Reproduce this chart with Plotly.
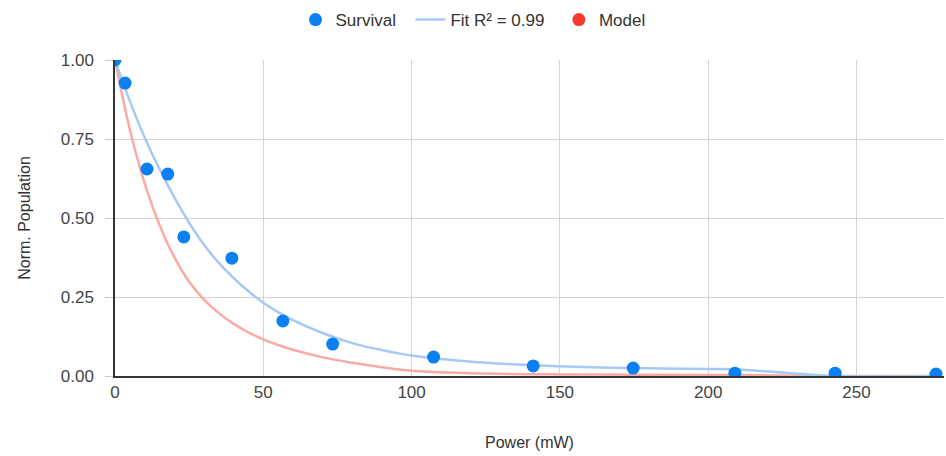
import plotly.graph_objects as go

# Measured data
power = [0, 3.4, 10.8, 17.8, 23.2, 39.4, 56.6, 73.4, 107.4, 141, 174.7, 209, 242.8, 276.8]
survival = [1.0, 0.927, 0.655, 0.639, 0.44, 0.373, 0.174, 0.101, 0.060, 0.032, 0.025, 0.009, 0.009, 0.006]

# Curves at these power values
curve_x = [0, 5, 10, 15, 20, 25, 30, 35, 40, 45, 50, 55, 60, 70, 80, 90, 100, 125, 150, 175, 200, 209, 243, 277]
fit = [1.0, 0.87, 0.755, 0.655, 0.565, 0.485, 0.415, 0.358, 0.31, 0.268, 0.232, 0.202, 0.177, 0.136, 0.104, 0.082, 0.065,
       0.042, 0.031, 0.025, 0.022, 0.021, 0.0, 0.0]
model = [1.0, 0.78, 0.61, 0.478, 0.376, 0.298, 0.242, 0.199, 0.165, 0.138, 0.116, 0.098, 0.083, 0.059, 0.042, 0.028, 0.017,
         0.008, 0.005, 0.004, 0.003, 0.003, 0.0, 0.0]

x_ticks = [0, 50, 100, 150, 200, 250]
y_ticks = [0, 0.25, 0.5, 0.75, 1.0]

BLUE = "#0b80f2"
FIT_C = "#a5c9f6"
MODEL_LINE = "#fbaaa3"
MODEL_DOT = "#f63b2e"
FONT = "Liberation Sans, Arial, sans-serif"
NB = "\u00a0"

fig = go.Figure()
fig.add_trace(go.Scatter(x=curve_x, y=model, mode="lines", line=dict(color=MODEL_LINE, width=2.5, shape="spline"),
                         name="Model", showlegend=False, legendgroup="m"))
fig.add_trace(go.Scatter(x=curve_x, y=fit, mode="lines", line=dict(color=FIT_C, width=2.5, shape="spline"),
                         name="Fit R² = 0.99" + NB * 2, legendrank=2))
fig.add_trace(go.Scatter(x=power, y=survival, mode="markers", marker=dict(color=BLUE, size=13),
                         name="Survival" + NB * 2, legendrank=1))
fig.add_trace(go.Scatter(x=[None], y=[None], mode="markers", marker=dict(color=MODEL_DOT, size=13),
                         name="Model", legendgroup="m", legendrank=3))

fig.update_layout(
    width=946, height=456,
    margin=dict(l=115, r=2, t=60, b=80),
    paper_bgcolor="white", plot_bgcolor="white",
    font=dict(family=FONT, size=16, color="#444"),
    legend=dict(orientation="h", xref="container", x=0.5, xanchor="center",
                yref="container", y=0.956, yanchor="middle",
                font=dict(size=17, color="#333"), itemwidth=30),
    xaxis=dict(range=[0, 279.5], tickvals=x_ticks, showgrid=True, gridcolor="#d3d3d3", gridwidth=1,
               showline=True, linecolor="#333", linewidth=1.5, zeroline=False, ticks="",
               tickfont=dict(size=17, color="#444"),
               title=dict(text="Power (mW)", font=dict(size=16, color="#333"), standoff=36)),
    yaxis=dict(range=[0, 1], tickvals=y_ticks, tickformat=".2f", showgrid=True, gridcolor="#d3d3d3", gridwidth=1,
               showline=True, linecolor="#333", linewidth=1.5, zeroline=False, ticks="outside",
               ticklen=8, tickcolor="#c8c8c8", tickfont=dict(size=17, color="#444"),
               ticklabelstandoff=8,
               title=dict(text="Norm. Population", font=dict(size=16, color="#333"), standoff=26)),
)

fig.write_html("out.html")
